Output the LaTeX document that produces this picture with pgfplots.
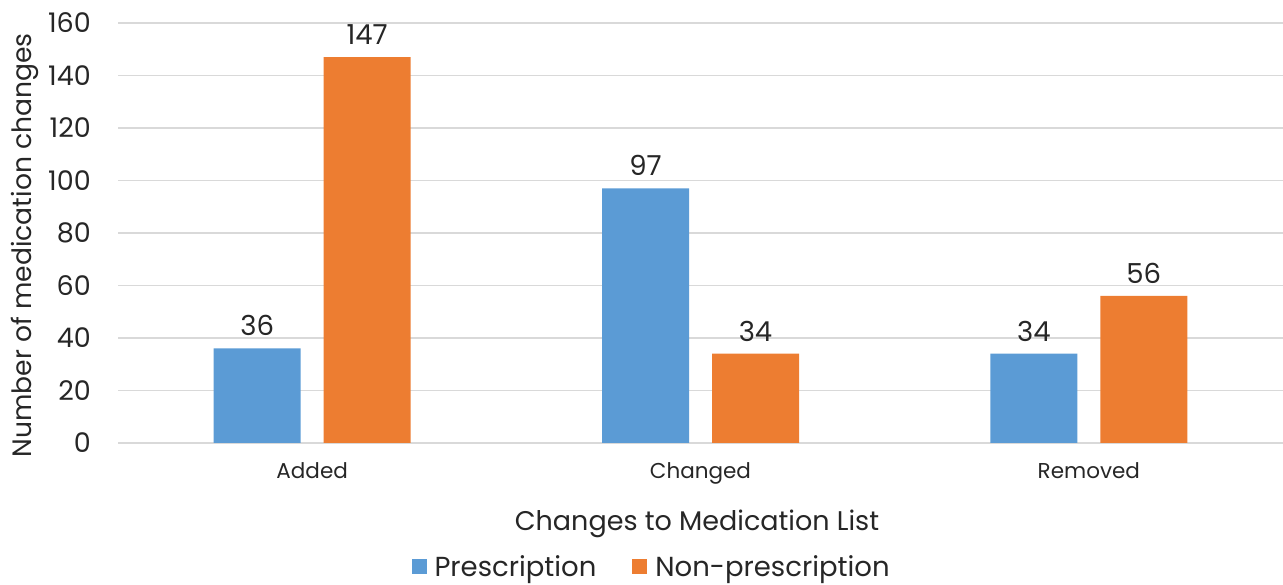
\documentclass[border=0pt]{standalone}
\usepackage{pgfplots}
\pgfplotsset{compat=1.18}
\usepackage{fontspec}
\setmainfont{Poppins}
\definecolor{cblue}{HTML}{5B9BD5}
\definecolor{corange}{HTML}{ED7D31}
\definecolor{cgrid}{HTML}{D9D9D9}
\begin{document}
\begin{tikzpicture}[x=1bp,y=1bp]
\path[use as bounding box] (0,0) rectangle (1283,585);
\begin{axis}[
  at={(118bp,142bp)}, anchor=south west,
  scale only axis, width=1165bp, height=420bp,
  xmin=-0.5, xmax=2.5, ymin=0, ymax=160,
  xtick=data, xticklabels={Added,Changed,Removed},
  ytick={0,20,...,160},
  axis line style={draw=none},
  axis x line*=bottom,
  ymajorgrids, grid style={cgrid, line width=1.5bp},
  major tick length=0pt,
  ybar, bar width=87bp, 
  /pgf/number format/assume math mode=true,
  yticklabel style={font=\fontsize{27bp}{30bp}\selectfont, text=black!85, anchor=east, inner sep=0pt, xshift=-27bp},
  xticklabel style={font=\fontsize{21.5bp}{25bp}\selectfont, text=black!85, anchor=base, inner sep=0pt, yshift=-36bp},
  xlabel={Changes to Medication List},
  ylabel={Number of medication changes},
  xlabel style={font=\fontsize{27bp}{30bp}\selectfont, text=black!85, at={(axis description cs:0.497,0)}, anchor=base, inner sep=0pt, yshift=-88bp},
  ylabel style={font=\fontsize{26.6bp}{30bp}\selectfont, text=black!85, at={(axis description cs:-0.0798,0.471)}, anchor=center, inner sep=0pt, rotate=0},
  nodes near coords,
  every node near coord/.append style={font=\fontsize{27.5bp}{30bp}\selectfont, text=black!85, yshift=9bp},
  legend style={at={(0.458,-0.295)}, anchor=center, draw=none, legend columns=2,
    font=\fontsize{27.5bp}{30bp}\selectfont, text=black!85,
    /tikz/every even column/.append style={column sep=34bp}},
  legend image code/.code={\fill[#1] (0bp,-7.5bp) rectangle (15bp,7.5bp); \path (21bp,0bp);},
  clip=false,
]
\draw[cgrid, line width=1.5bp] (axis cs:-0.5,0) -- (axis cs:2.5,0);
\addplot[draw=none, fill=cblue, bar shift=-55bp] coordinates {(0,36) (1,97) (2,34)};
\addplot[draw=none, fill=corange, bar shift=55bp] coordinates {(0,147) (1,34) (2,56)};
\legend{Prescription, Non-prescription}
\end{axis}
\end{tikzpicture}
\end{document}
